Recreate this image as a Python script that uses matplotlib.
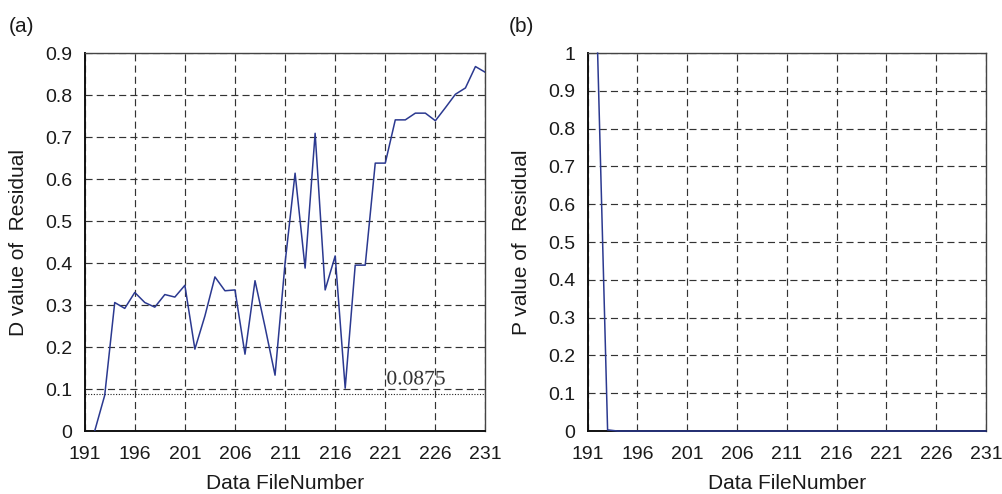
import numpy as np
import matplotlib.pyplot as plt
from matplotlib.textpath import TextPath
from matplotlib.patches import PathPatch
from matplotlib.font_manager import FontProperties
from matplotlib.transforms import Affine2D, ScaledTranslation

plt.rcParams['font.family'] = ['Liberation Sans', 'DejaVu Sans']

# file numbers and K-S statistics of the residual
file_no = list(range(192, 232))
d_value = [0.0, 0.085, 0.306, 0.292, 0.330, 0.306, 0.295, 0.325, 0.319, 0.347,
           0.195, 0.274, 0.367, 0.334, 0.336, 0.183, 0.358, 0.248, 0.133, 0.400,
           0.614, 0.388, 0.709, 0.336, 0.417, 0.102, 0.395, 0.395, 0.638, 0.638,
           0.741, 0.741, 0.757, 0.757, 0.739, 0.770, 0.802, 0.817, 0.868, 0.854]
p_value = [1.0, 0.003] + [0.0] * 38
d_crit = 0.0875
x_ticks = list(range(191, 232, 5))

line_col = '#2b3990'
grid_col = '#333333'
txt_col = '#1a1a1a'

fig = plt.figure(figsize=(10.02, 4.94), dpi=100)
ax_a = fig.add_axes([0.0845, 0.1275, 0.400, 0.765])
ax_b = fig.add_axes([0.5865, 0.1275, 0.3975, 0.765])


def style(ax, ymax, yticks, ylabel):
    ax.set_xlim(191, 231)
    ax.set_ylim(0, ymax)
    ax.set_xticks(x_ticks)
    ax.set_yticks(yticks)
    ax.set_yticklabels(['%g' % round(t, 1) for t in yticks])
    ax.grid(True, linestyle=(0, (6, 3.5)), color=grid_col, linewidth=0.85)
    ax.set_axisbelow(True)
    ax.tick_params(direction='in', length=0, labelsize=14, colors=txt_col)
    ax.tick_params(axis='y', pad=9)
    ax.tick_params(axis='x', pad=11)
    for s in ['top', 'right']:
        ax.spines[s].set_linewidth(1.0)
        ax.spines[s].set_color('#444444')
    for s in ['left', 'bottom']:
        ax.spines[s].set_linewidth(1.4)
        ax.spines[s].set_color('#111111')
    ax.set_xlabel('Data FileNumber', fontsize=15, color=txt_col)
    ax.xaxis.set_label_coords(0.5, -0.114)
    ax.set_ylabel(ylabel, fontsize=15, color=txt_col)
    ax.yaxis.set_label_coords(-0.142, 0.5)


# (a) D value
style(ax_a, 0.9, np.arange(0, 0.91, 0.1), 'D value of  Residual')
ax_a.plot(file_no, d_value, color=line_col, linewidth=1.1, zorder=3)
ax_a.axhline(d_crit, color='#222222', linestyle=(0, (1, 1.5)), linewidth=0.8,
             zorder=2)

# threshold label, drawn as a narrow serif path
tp = TextPath((0, 0), '%g' % d_crit, size=1,
              prop=FontProperties(family='Liberation Serif'))
ext = tp.get_extents()
tp_trans = (Affine2D().translate(-ext.x0, 0).scale(0.575 / ext.width, 0.14 / ext.height)
            + fig.dpi_scale_trans
            + ScaledTranslation(221.2, 0.111, ax_a.transData))
ax_a.add_patch(PathPatch(tp, transform=tp_trans, facecolor='#333333',
                         edgecolor='none', clip_on=False, zorder=4))

# (b) P value
style(ax_b, 1.0, np.arange(0, 1.01, 0.1), 'P value of  Residual')
ax_b.plot(file_no, p_value, color=line_col, linewidth=1.1, zorder=3,
          clip_on=False)

fig.text(0.009, 0.935, '(a)', fontsize=15, color=txt_col)
fig.text(0.508, 0.935, '(b)', fontsize=15, color=txt_col)

fig.savefig('out.png', dpi=100)
